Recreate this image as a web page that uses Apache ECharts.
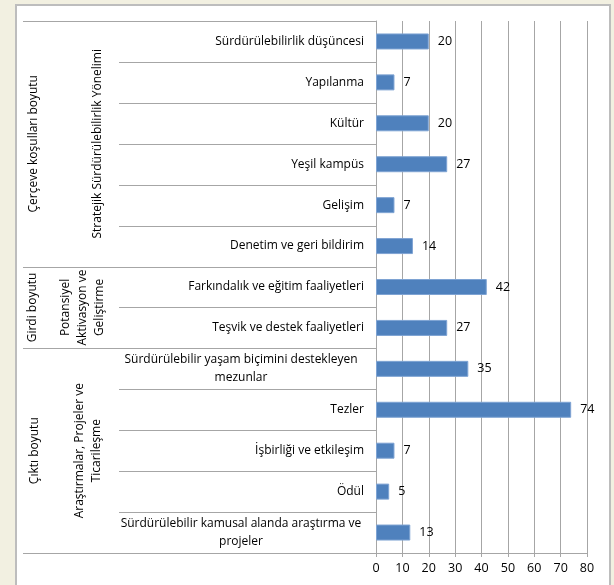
<!DOCTYPE html>
<html>
<head>
<meta charset="utf-8">
<script src="https://cdn.jsdelivr.net/npm/echarts@6/dist/echarts.min.js"></script>
<style>
html,body{margin:0;padding:0;background:#F2F0E1;}
#chart{width:614px;height:585px;}
</style>
</head>
<body>
<div id="chart"></div>
<script>
const categories = [
  'Sürdürülebilirlik düşüncesi',
  'Yapılanma',
  'Kültür',
  'Yeşil kampüs',
  'Gelişim',
  'Denetim ve geri bildirim',
  'Farkındalık ve eğitim faaliyetleri',
  'Teşvik ve destek faaliyetleri',
  'Sürdürülebilir yaşam biçimini destekleyen\nmezunlar',
  'Tezler',
  'İşbirliği ve etkileşim',
  'Ödül',
  'Sürdürülebilir kamusal alanda araştırma ve\nprojeler'
];
const values = [20, 7, 20, 27, 7, 14, 42, 27, 35, 74, 7, 5, 13];
const dimensions = ['Çerçeve koşulları boyutu', 'Girdi boyutu', 'Çıktı boyutu'];
const subDimensions = ['Stratejik Sürdürülebilirlik Yönelimi', 'Potansiyel\nAktivasyon ve\nGeliştirme', 'Araştırmalar, Projeler ve\nTicarileşme'];
const groupSizes = [6, 2, 5];
const xMin = 0, xMax = 80, xStep = 10;

const FONT = '"Open Sans", "Noto Sans", sans-serif';
const GRID = '#A6A6A6';

const chart = echarts.init(document.getElementById('chart'));
const option = {
  backgroundColor: '#F2F0E1',
  animation: false,
  textStyle: { fontFamily: FONT },
  grid: { left: 376, top: 21, width: 211, height: 532, containLabel: false },
  xAxis: {
    type: 'value', min: xMin, max: xMax, interval: xStep,
    axisLine: { show: true, lineStyle: { color: GRID } },
    axisTick: { show: true, length: 4, lineStyle: { color: GRID } },
    splitLine: { show: true, lineStyle: { color: GRID, width: 1 } },
    axisLabel: { color: '#000', fontSize: 12.5, margin: 9, fontFamily: FONT }
  },
  yAxis: {
    type: 'category', inverse: true, data: categories,
    axisLine: { show: true, lineStyle: { color: GRID } },
    axisTick: { show: false },
    axisLabel: {
      color: '#000', fontSize: 12, margin: 12, fontFamily: FONT, lineHeight: 18,
      formatter: function (v) {
        if (v.indexOf('\n') >= 0) {
          return v.split('\n').map(s => '{c|' + s + '}').join('\n');
        }
        return v;
      },
      rich: { c: { width: 246, align: 'center', fontSize: 12, lineHeight: 18, color: '#000', fontFamily: FONT } }
    }
  },
  series: [{
    type: 'bar', data: values, barWidth: 16,
    itemStyle: { color: '#4F81BD', borderColor: '#7EA3D3', borderWidth: 1 },
    label: { show: true, position: 'right', distance: 9, color: '#000', fontSize: 12.5, fontFamily: FONT }
  }]
};
chart.setOption(option);

const c0 = chart.convertToPixel({ yAxisIndex: 0 }, 0);
const c1 = chart.convertToPixel({ yAxisIndex: 0 }, 1);
const band = c1 - c0;
const edge = i => c0 - band / 2 + i * band;
const x0 = chart.convertToPixel({ xAxisIndex: 0 }, xMin);

const graphics = [{
  type: 'rect', z: -10, silent: true,
  shape: { x: 16, y: 5, width: 594, height: 600 },
  style: { fill: '#FFFFFF', stroke: '#BDBDBD', lineWidth: 2 }
}];
const groupEdges = [0];
groupSizes.forEach(s => groupEdges.push(groupEdges[groupEdges.length - 1] + s));
for (let i = 0; i <= categories.length; i++) {
  const y = Math.round(edge(i)) + 0.5;
  const isGroup = groupEdges.indexOf(i) >= 0;
  graphics.push({
    type: 'line', silent: true,
    shape: { x1: isGroup ? 23 : 119, y1: y, x2: x0, y2: y },
    style: { stroke: GRID, lineWidth: 1 }
  });
}
const dimX = [34, 33, 35];
const subX = [98, 83, 88];
for (let g = 0; g < groupSizes.length; g++) {
  const yc = (edge(groupEdges[g]) + edge(groupEdges[g + 1])) / 2;
  graphics.push({
    type: 'text', silent: true, x: dimX[g], y: yc, rotation: Math.PI / 2,
    style: { text: dimensions[g], fill: '#000', font: '12px ' + FONT, align: 'center', verticalAlign: 'middle' }
  });
  graphics.push({
    type: 'text', silent: true, x: subX[g], y: yc, rotation: Math.PI / 2,
    style: { text: subDimensions[g], fill: '#000', font: '12px ' + FONT, align: 'center', verticalAlign: 'middle', lineHeight: 17 }
  });
}
chart.setOption({ graphic: graphics });
</script>
</body>
</html>
